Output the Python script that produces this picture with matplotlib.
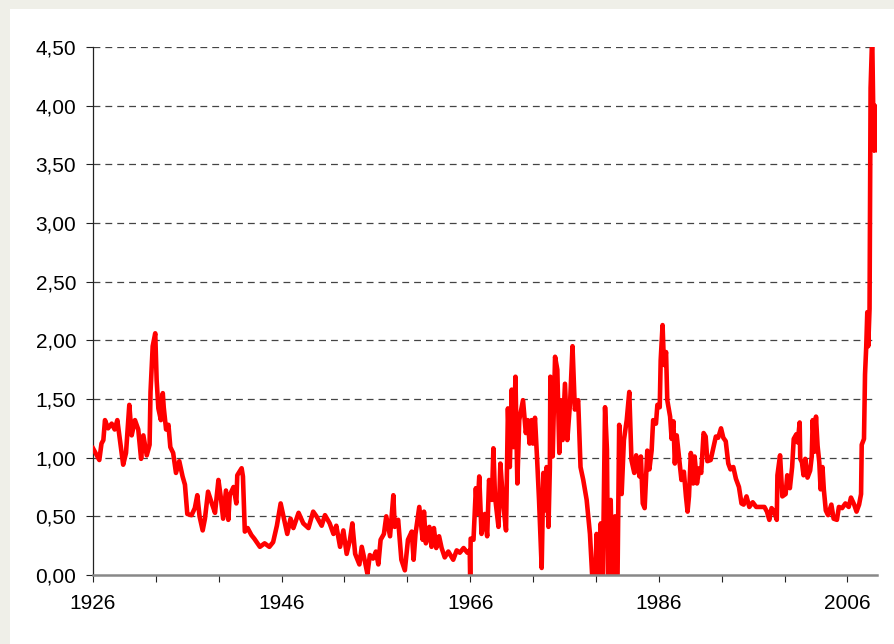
import numpy as np
import matplotlib
matplotlib.use("Agg")
from matplotlib import pyplot as plt
from matplotlib.patches import Rectangle
from matplotlib.ticker import FuncFormatter

# values (time in years, level)
years = [
    1926.0, 1926.4, 1926.67, 1926.9, 1927.1, 1927.27, 1927.6, 1927.98, 1928.3, 1928.58,
    1928.86, 1929.2, 1929.5, 1929.85, 1930.1, 1930.45, 1930.8, 1931.1, 1931.34, 1931.7,
    1932.0, 1932.1, 1932.33, 1932.6, 1932.75, 1932.93, 1933.2, 1933.4, 1933.5, 1933.75,
    1934.0, 1934.2, 1934.5, 1934.8, 1935.15, 1935.5, 1935.75, 1936.0, 1936.45, 1936.8,
    1937.06, 1937.3, 1937.63, 1937.87, 1938.2, 1938.6, 1938.94, 1939.3, 1939.54, 1939.8,
    1940.1, 1940.35, 1940.5, 1940.9, 1941.2, 1941.3, 1941.76, 1941.9, 1942.1, 1942.4,
    1942.8, 1943.1, 1943.7, 1944.2, 1944.7, 1945.1, 1945.5, 1945.9, 1946.2, 1946.6,
    1946.95, 1947.25, 1947.8, 1948.3, 1948.85, 1949.35, 1949.7, 1950.25, 1950.6, 1951.1,
    1951.5, 1951.8, 1952.2, 1952.55, 1952.9, 1953.25, 1953.5, 1953.8, 1954.25, 1954.5,
    1954.85, 1955.1, 1955.36, 1955.7, 1956.0, 1956.26, 1956.5, 1956.85, 1957.1, 1957.5,
    1957.85, 1958.0, 1958.36, 1958.7, 1959.07, 1959.4, 1959.8, 1960.0, 1960.2, 1960.6,
    1960.96, 1961.1, 1961.3, 1961.67, 1961.9, 1962.15, 1962.4, 1962.7, 1962.97, 1963.3,
    1963.68, 1964.2, 1964.57, 1964.9, 1965.3, 1965.7, 1965.95, 1966.0, 1966.05, 1966.35,
    1966.6, 1966.75, 1966.96, 1967.2, 1967.55, 1967.8, 1968.0, 1968.3, 1968.46, 1968.63,
    1969.0, 1969.2, 1969.5, 1969.8, 1970.0, 1970.2, 1970.4, 1970.6, 1970.8, 1971.0,
    1971.2, 1971.6, 1971.9, 1972.1, 1972.3, 1972.5, 1972.65, 1972.87, 1973.1, 1973.3,
    1973.58, 1973.76, 1973.9, 1974.1, 1974.3, 1974.45, 1974.5, 1974.75, 1975.0, 1975.24,
    1975.45, 1975.6, 1975.8, 1976.05, 1976.3, 1976.6, 1976.85, 1977.1, 1977.45, 1977.7,
    1977.99, 1978.35, 1978.7, 1979.0, 1979.2, 1979.4, 1979.6, 1979.85, 1980.05, 1980.3,
    1980.5, 1980.65, 1980.9, 1981.1, 1981.35, 1981.6, 1981.8, 1982.06, 1982.3, 1982.6,
    1982.87, 1983.1, 1983.4, 1983.6, 1983.95, 1984.1, 1984.3, 1984.5, 1984.78, 1985.0,
    1985.24, 1985.4, 1985.7, 1985.85, 1986.1, 1986.2, 1986.4, 1986.55, 1986.77, 1986.9,
    1987.2, 1987.36, 1987.55, 1987.7, 1987.9, 1988.17, 1988.4, 1988.66, 1988.88, 1989.05,
    1989.2, 1989.4, 1989.65, 1989.8, 1990.05, 1990.3, 1990.5, 1990.75, 1990.97, 1991.15,
    1991.5, 1991.77, 1992.05, 1992.3, 1992.6, 1992.84, 1993.1, 1993.37, 1993.6, 1993.9,
    1994.18, 1994.5, 1994.77, 1995.0, 1995.3, 1995.6, 1995.96, 1996.33, 1996.85, 1997.2,
    1997.47, 1997.72, 1997.96, 1998.24, 1998.51, 1998.58, 1998.86, 1999.1, 1999.45, 1999.62,
    1999.9, 2000.14, 2000.31, 2000.59, 2000.73, 2000.94, 2001.0, 2001.18, 2001.35, 2001.53,
    2001.77, 2002.05, 2002.22, 2002.32, 2002.5, 2002.67, 2002.84, 2003.02, 2003.16, 2003.36,
    2003.5, 2003.71, 2003.95, 2004.3, 2004.54, 2004.89, 2005.1, 2005.44, 2005.79, 2006.14,
    2006.38, 2006.72, 2006.97, 2007.24, 2007.45, 2007.52, 2007.76, 2007.87, 2008.0, 2008.11,
    2008.21, 2008.35, 2008.46, 2008.63, 2008.8, 2008.91, 2008.98,
]
values = [
    1.08, 1.02, 0.98, 1.12, 1.15, 1.32, 1.25, 1.29, 1.24, 1.32,
    1.15, 0.94, 1.04, 1.45, 1.19, 1.32, 1.24, 0.99, 1.19, 1.02,
    1.11, 1.56, 1.95, 2.06, 1.66, 1.42, 1.32, 1.55, 1.43, 1.24,
    1.28, 1.09, 1.04, 0.87, 0.97, 0.84, 0.77, 0.52, 0.51, 0.57,
    0.68, 0.50, 0.38, 0.48, 0.71, 0.61, 0.53, 0.81, 0.67, 0.48,
    0.72, 0.47, 0.68, 0.75, 0.61, 0.85, 0.91, 0.84, 0.37, 0.40,
    0.34, 0.31, 0.24, 0.27, 0.24, 0.28, 0.42, 0.61, 0.50, 0.35,
    0.48, 0.40, 0.53, 0.44, 0.40, 0.54, 0.50, 0.42, 0.51, 0.44,
    0.35, 0.42, 0.24, 0.38, 0.18, 0.30, 0.44, 0.18, 0.09, 0.24,
    0.11, 0.01, 0.17, 0.14, 0.20, 0.09, 0.30, 0.35, 0.50, 0.33,
    0.68, 0.41, 0.47, 0.13, 0.04, 0.30, 0.37, 0.13, 0.35, 0.58,
    0.30, 0.54, 0.27, 0.41, 0.24, 0.40, 0.23, 0.33, 0.23, 0.15,
    0.20, 0.13, 0.21, 0.19, 0.23, 0.19, 0.21, -0.05, 0.31, 0.30,
    0.74, 0.52, 0.84, 0.35, 0.52, 0.33, 0.81, 0.64, 1.08, 0.67,
    0.41, 0.95, 0.61, 0.38, 1.42, 0.92, 1.58, 1.09, 1.69, 0.78,
    1.32, 1.49, 1.21, 1.32, 1.12, 1.32, 1.12, 1.34, 0.98, 0.64,
    0.06, 0.87, 0.55, 0.92, 0.41, 0.92, 1.69, 1.01, 1.86, 1.75,
    1.04, 1.49, 1.15, 1.63, 1.15, 1.48, 1.95, 1.41, 1.49, 0.92,
    0.81, 0.64, 0.35, -0.10, -0.20, 0.35, -0.30, 0.44, -0.10, 1.43,
    1.07, -0.30, 0.64, -0.30, 0.50, -0.20, 1.28, 0.69, 1.15, 1.32,
    1.56, 0.98, 0.87, 1.02, 0.84, 1.01, 0.61, 0.57, 1.06, 0.90,
    1.06, 1.32, 1.29, 1.45, 1.43, 1.83, 2.13, 1.79, 1.90, 1.49,
    1.35, 1.16, 1.31, 0.95, 1.19, 0.98, 0.81, 0.88, 0.67, 0.54,
    0.67, 1.04, 0.78, 1.01, 0.78, 0.91, 0.87, 1.21, 1.18, 0.97,
    0.98, 1.08, 1.18, 1.17, 1.25, 1.17, 1.14, 0.95, 0.90, 0.92,
    0.82, 0.75, 0.61, 0.60, 0.67, 0.58, 0.62, 0.58, 0.58, 0.58,
    0.54, 0.47, 0.57, 0.54, 0.47, 0.85, 1.02, 0.67, 0.69, 0.85,
    0.74, 0.92, 1.16, 1.20, 1.13, 1.30, 0.99, 0.96, 0.85, 0.99,
    0.83, 0.89, 1.01, 1.32, 1.05, 1.35, 1.10, 0.96, 0.73, 0.92,
    0.73, 0.55, 0.51, 0.60, 0.48, 0.47, 0.58, 0.57, 0.61, 0.58,
    0.66, 0.60, 0.54, 0.60, 0.69, 1.11, 1.16, 1.71, 1.95, 2.24,
    1.95, 2.27, 4.15, 4.60, 3.62, 4.00, 3.62,
]

# category axis: one tick every 80 months, a label every 240 months
tick_years = 1926 + np.arange(13) * 80 / 12
tick_labels = [str(int(round(t))) if i % 3 == 0 else "" for i, t in enumerate(tick_years)]
y_ticks = np.arange(0, 4.51, 0.5)

plt.rcParams["font.family"] = ["Liberation Sans", "DejaVu Sans"]

fig = plt.figure(figsize=(8.95, 6.44), dpi=100)
fig.patch.set_facecolor("#efefe8")
fig.patches.append(Rectangle((10 / 895, 0), 1, 1 - 9 / 644, transform=fig.transFigure,
                             facecolor="white", edgecolor="none", zorder=-10))

ax = fig.add_axes([93 / 895, 1 - 575 / 644, (877 - 93) / 895, (575 - 47) / 644])
ax.set_zorder(1)
ax.set_facecolor("white")

ax.plot(years, values, color="#ff0000", lw=3.3, solid_joinstyle="round", zorder=3)

ax.set_xlim(1926, 2009.14)
ax.set_ylim(0, 4.5)

ax.set_yticks(y_ticks)
ax.yaxis.set_major_formatter(FuncFormatter(lambda v, p: f"{v:.2f}".replace(".", ",")))
ax.set_xticks(tick_years)
ax.set_xticklabels(tick_labels)

for y in y_ticks[1:]:
    ax.axhline(y, color="#444444", lw=0.9, linestyle=(0, (5.5, 4)), zorder=1)

for side in ["top", "right"]:
    ax.spines[side].set_visible(False)
ax.spines["left"].set_color("#222222")
ax.spines["left"].set_linewidth(0.9)
ax.spines["bottom"].set_color("#888888")
ax.spines["bottom"].set_linewidth(1.8)
ax.spines["bottom"].set_zorder(4)

ax.tick_params(axis="y", direction="out", length=5, width=0.8, color="#222222",
               labelsize=15, pad=7)
ax.tick_params(axis="x", direction="out", length=5, width=0.8, color="#222222",
               labelsize=15, pad=9)

fig.savefig("out.png", dpi=100, facecolor=fig.get_facecolor())
